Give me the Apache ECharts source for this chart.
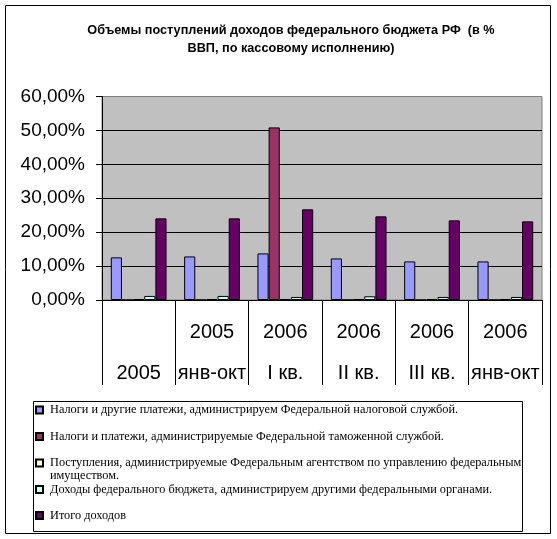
<!DOCTYPE html>
<html>
<head>
<meta charset="utf-8">
<script src="https://cdn.jsdelivr.net/npm/echarts@6/dist/echarts.min.js"></script>
<style>html,body{margin:0;padding:0;background:#fff}#c{width:557px;height:539px}</style>
</head>
<body>
<div id="c"></div>
<script>
var titleText = 'Объемы поступлений доходов федерального бюджета РФ  (в %\nВВП, по кассовому исполнению)';
var categories = ['\n2005', '2005\nянв-окт', '2006\nI кв.', '2006\nII кв.', '2006\nIII кв.', '2006\nянв-окт'];
var seriesNames = [
  'Налоги и другие платежи, администрируем Федеральной налоговой службой.',
  'Налоги и платежи, администрируемые Федеральной таможенной службой.',
  'Поступления, администрируемые Федеральным агентством по управлению федеральным имуществом.',
  'Доходы федерального бюджета, администрируем другими федеральными органами.',
  'Итого доходов'
];
var fnsValues = [12.57, 12.84, 13.73, 12.25, 11.37, 11.37];
var ftsValues = [0, 0, 50.89, 0, 0, 0];
var propertyValues = [0.3, 0.3, 0.3, 0.3, 0.3, 0.3];
var otherValues = [1.2, 1.2, 0.9, 1.1, 0.9, 0.9];
var totalValues = [24.07, 24.07, 26.72, 24.66, 23.48, 23.18];
var yTicks = [0, 10, 20, 30, 40, 50, 60];

var colors = ['#9999FF', '#993366', '#FFFFCC', '#CCFFFF', '#660066'];
var dataSets = [fnsValues, ftsValues, propertyValues, otherValues, totalValues];

var chart = echarts.init(document.getElementById('c'), null, {renderer: 'canvas'});

var legendCenters = [410, 436.5, 463, 489.5, 515.5];
var LH = 13;
var legends = seriesNames.map(function (name, i) {
  var multi = (i === 2);
  return {
    data: [name],
    orient: 'vertical',
    left: 35,
    top: multi ? legendCenters[i] - 1.5 * LH : legendCenters[i] - LH / 2,
    padding: 0,
    icon: 'rect',
    itemWidth: 7,
    itemHeight: 7,
    selectedMode: false,
    formatter: multi ? function () {
      return '\nПоступления, администрируемые Федеральным агентством по управлению федеральным\nимуществом.';
    } : '{name}',
    textStyle: {
      fontFamily: 'Liberation Serif',
      fontSize: 12.3,
      color: '#000',
      lineHeight: LH,
      padding: [0, 0, 0, 2]
    }
  };
});

var option = {
  backgroundColor: '#fff',
  animation: false,
  title: {
    text: titleText,
    left: 291,
    textAlign: 'center',
    top: 21,
    padding: 0,
    textStyle: {
      fontFamily: 'Liberation Sans',
      fontSize: 12.7,
      fontWeight: 'bold',
      color: '#000',
      lineHeight: 18
    }
  },
  graphic: [
    {type: 'rect', z: -10, shape: {x: 5.5, y: 5.5, width: 545, height: 528}, style: {fill: 'none', stroke: '#000', lineWidth: 1}},
    {type: 'rect', z: -10, shape: {x: 33.5, y: 401.5, width: 489, height: 130}, style: {fill: '#fff', stroke: '#000', lineWidth: 1}}
  ],
  legend: legends,
  grid: {
    left: 102,
    right: 15,
    top: 96.5,
    bottom: 239,
    show: true,
    backgroundColor: '#C0C0C0',
    borderColor: '#808080',
    borderWidth: 1,
    containLabel: false
  },
  xAxis: {
    type: 'category',
    data: categories,
    axisLine: {show: true, lineStyle: {color: '#000', width: 1}},
    axisTick: {show: true, length: 85, interval: 0, lineStyle: {color: '#000', width: 1}},
    axisLabel: {
      interval: 0,
      margin: 11.5,
      fontFamily: 'Liberation Sans',
      fontSize: 20,
      lineHeight: 41,
      color: '#000'
    },
    splitLine: {show: false}
  },
  yAxis: {
    type: 'value',
    min: yTicks[0],
    max: yTicks[yTicks.length - 1],
    interval: 10,
    axisLine: {show: true, lineStyle: {color: '#000', width: 1}},
    axisTick: {show: true, length: 6, lineStyle: {color: '#000', width: 1}},
    axisLabel: {
      margin: 17,
      fontFamily: 'Liberation Sans',
      fontSize: 19,
      color: '#000',
      formatter: function (v) { return v.toFixed(2).replace('.', ',') + '%'; }
    },
    splitLine: {show: true, showMaxLine: false, showMinLine: false, lineStyle: {color: '#000', width: 1}}
  },
  series: seriesNames.map(function (name, i) {
    return {
      name: name,
      type: 'bar',
      data: dataSets[i],
      barGap: '0%',
      barCategoryGap: '24%',
      itemStyle: {color: colors[i], borderColor: '#000', borderWidth: 1},
      emphasis: {disabled: true}
    };
  })
};
chart.setOption(option);
</script>
</body>
</html>
